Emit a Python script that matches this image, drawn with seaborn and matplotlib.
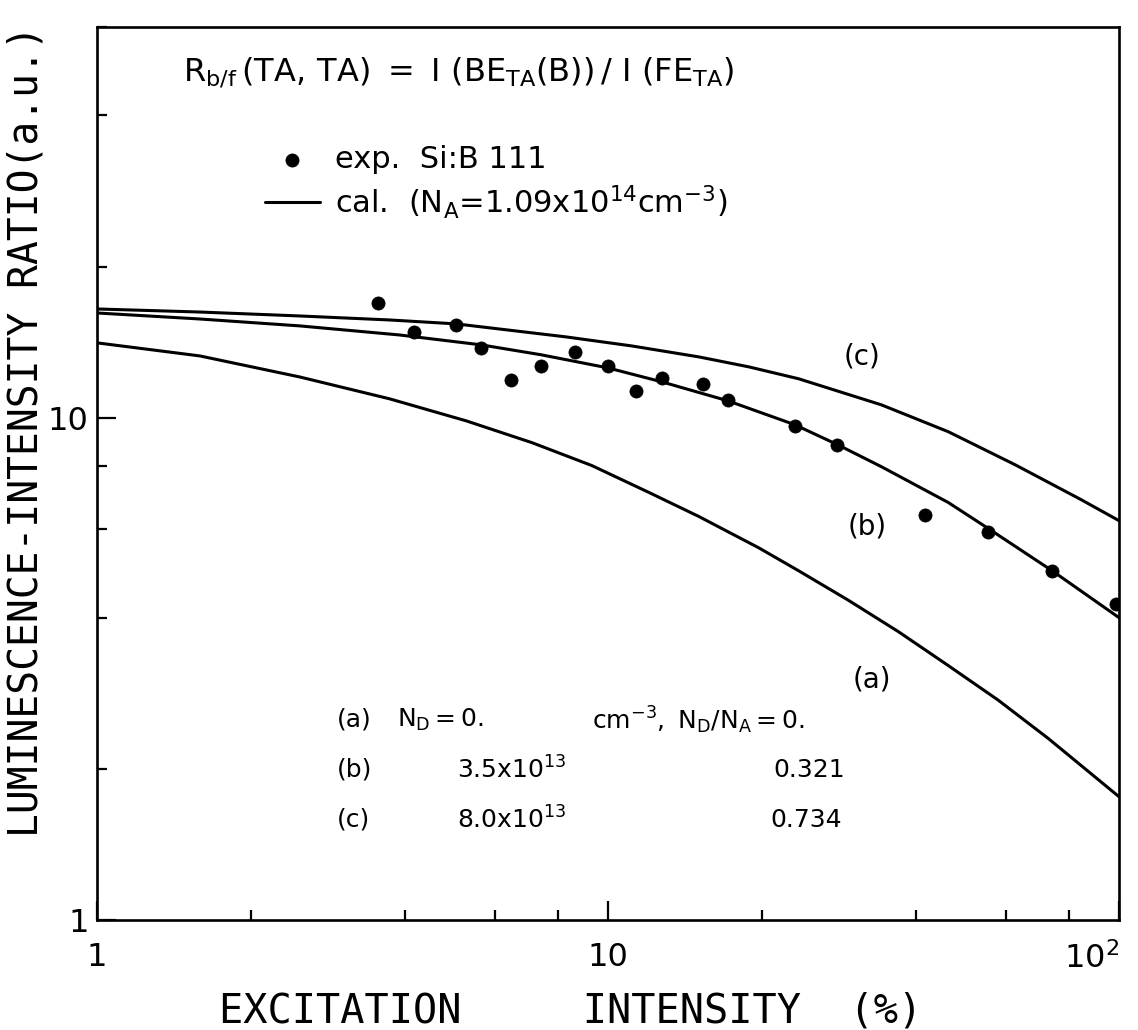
import numpy as np
import pandas as pd
import matplotlib
matplotlib.use("Agg")
import matplotlib.pyplot as plt
import seaborn as sns
from matplotlib.ticker import FixedLocator, LogLocator, NullFormatter, FixedFormatter

# ---- data ----
exp_x = [3.54, 4.18, 5.05, 5.65, 6.46, 7.40, 8.62, 10.0, 11.34, 12.75, 15.33, 17.15,
         23.2, 28.1, 41.8, 55.5, 74.0, 98.7]
exp_y = [16.9, 14.8, 15.3, 13.8, 11.9, 12.7, 13.5, 12.7, 11.3, 12.0, 11.7, 10.85,
         9.64, 8.84, 6.41, 5.91, 4.96, 4.25]

a_x = [1.0, 1.589, 2.492, 3.736, 5.28, 7.105, 9.306, 12.03, 15.06, 19.72, 23.6, 29.56,
       37.02, 46.35, 58.03, 72.66, 100.0]
a_y = [14.10, 13.28, 12.06, 10.91, 9.86, 8.92, 8.03, 7.10, 6.36, 5.51, 4.96, 4.33,
       3.75, 3.21, 2.74, 2.30, 1.76]

b_x = [1.0, 1.589, 2.492, 3.906, 5.649, 7.397, 10.0, 12.75, 17.16, 23.19, 28.13, 34.29,
       46.35, 55.48, 73.98, 100.0]
b_y = [16.17, 15.73, 15.24, 14.62, 13.97, 13.35, 12.57, 11.79, 10.81, 9.69, 8.84, 7.99,
       6.78, 6.02, 4.96, 4.00]

c_x = [1.0, 1.589, 2.492, 3.736, 5.048, 8.279, 11.14, 15.06, 18.86, 23.6, 34.29, 46.35,
       62.66, 84.32, 100.0]
c_y = [16.47, 16.24, 15.95, 15.66, 15.38, 14.49, 13.90, 13.22, 12.63, 11.96, 10.61, 9.38,
       8.06, 6.87, 6.24]

x_ticks = [1, 10, 100]
x_ticklabels = ["1", "10", r"$10^2$"]
y_ticks = [1, 10]
y_ticklabels = ["1", "10"]

# ---- style ----
sns.set_style("ticks")
plt.rcParams["font.family"] = ["DejaVu Sans"]
plt.rcParams["mathtext.fontset"] = "dejavusans"
for k in ["text.color", "axes.labelcolor", "xtick.color", "ytick.color",
          "xtick.labelcolor", "ytick.labelcolor", "axes.edgecolor"]:
    plt.rcParams[k] = "black"

fig = plt.figure(figsize=(11.38, 10.30), dpi=100)
ax = fig.add_axes([0.0852, 0.1068, 0.8981, 0.8670])

sns.scatterplot(x=exp_x, y=exp_y, ax=ax, color="black", s=90, edgecolor="black",
                linewidth=0.5, label="exp.  Si:B 111", zorder=3)
sns.lineplot(x=a_x, y=a_y, ax=ax, color="black", lw=2.2,
             label=r"cal.  ($\mathregular{N_A}$=1.09x10$\mathregular{^{14}}$cm$\mathregular{^{-3}}$)")
sns.lineplot(x=b_x, y=b_y, ax=ax, color="black", lw=2.2, label="_b")
sns.lineplot(x=c_x, y=c_y, ax=ax, color="black", lw=2.2, label="_c")

ax.set_xscale("log")
ax.set_yscale("log")
ax.set_xlim(1, 100)
ax.set_ylim(1, 60)

ax.xaxis.set_major_locator(FixedLocator(x_ticks))
ax.xaxis.set_major_formatter(FixedFormatter(x_ticklabels))
ax.xaxis.set_minor_locator(LogLocator(base=10, subs=(2, 4, 6, 8)))
ax.xaxis.set_minor_formatter(NullFormatter())
ax.yaxis.set_major_locator(FixedLocator(y_ticks))
ax.yaxis.set_major_formatter(FixedFormatter(y_ticklabels))
ax.yaxis.set_minor_locator(LogLocator(base=10, subs=(2, 4, 6, 8)))
ax.yaxis.set_minor_formatter(NullFormatter())

ax.tick_params(which="both", direction="in", top=False, right=False, colors="black", width=1.6)
ax.tick_params(which="major", length=14, labelsize=23)
ax.tick_params(which="minor", length=7)
ax.tick_params(axis="x", which="major", pad=16)
ax.tick_params(axis="y", which="major", pad=6)

fig.canvas.draw()
xt = ax.get_xticklabels()
xt[-1].set_horizontalalignment("right")

for sp in ax.spines.values():
    sp.set_visible(True)
    sp.set_linewidth(1.9)
    sp.set_color("black")

mono = "DejaVu Sans Mono"
ax.set_xlabel("EXCITATION     INTENSITY  (%)", family=mono, fontsize=29, va="center")
ax.xaxis.set_label_coords(0.463, -0.103)
ax.set_ylabel("LUMINESCENCE-INTENSITY RATIO(a.u.)", family=mono, fontsize=28.5, va="center")
ax.yaxis.set_label_coords(-0.069, 0.548)

leg = ax.legend(loc="upper left", bbox_to_anchor=(0.1644, 0.868), frameon=False,
                fontsize=22, borderpad=0, borderaxespad=0, handlelength=1.8,
                handletextpad=0.5, labelspacing=0.3, scatterpoints=1)

# equation
ax.text(0.0841, 0.9496,
        r"$\mathregular{R_{b/f}\,(TA,\,TA)\ =\ I\ (BE_{TA}(B))\,/\ I\ (FE_{TA})}$",
        transform=ax.transAxes, fontsize=23, va="center", ha="left")

# curve labels
for lab, fx, fy in [("(c)", 0.7485, 0.6305), ("(b)", 0.7534, 0.4401), ("(a)", 0.7583, 0.2688)]:
    ax.text(fx, fy, lab, transform=ax.transAxes, fontsize=20, ha="center", va="center")

# parameter table
rows_y = [0.224, 0.168, 0.112]
row_tags = ["(a)", "(b)", "(c)"]
nd_vals = [r"$\mathregular{N_D=0.}$", r"$\mathregular{3.5x10^{13}}$", r"$\mathregular{8.0x10^{13}}$"]
nd_x = [0.2935, 0.3523, 0.3523]
ratio_vals = [r"$\mathregular{cm^{-3},\ N_D/N_A=0.}$", "0.321", "0.734"]
ratio_x = [0.4843, 0.6614, 0.6585]
for i in range(3):
    ax.text(0.2348, rows_y[i], row_tags[i], transform=ax.transAxes, fontsize=18, va="center")
    ax.text(nd_x[i], rows_y[i], nd_vals[i], transform=ax.transAxes, fontsize=18, va="center")
    ax.text(ratio_x[i], rows_y[i], ratio_vals[i], transform=ax.transAxes, fontsize=18, va="center")

fig.savefig("out.png", dpi=100, facecolor="white")
